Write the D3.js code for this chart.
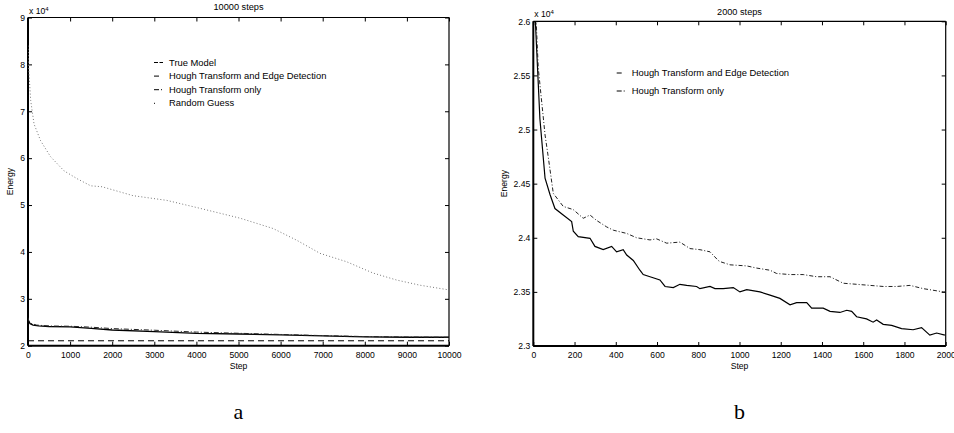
<!DOCTYPE html>
<html><head><meta charset="utf-8">
<script src="https://cdn.jsdelivr.net/npm/d3@7"></script>
<style>body{margin:0;background:#fff}svg{display:block}text{font-family:"Liberation Sans",Arial,sans-serif;fill:#000}</style>
</head><body>
<svg id="c" width="954" height="433"></svg>
<script>
// ---------- Panel a data (10000 steps) ----------
const aTitle = "10000 steps";
const aXTicks = [0,1000,2000,3000,4000,5000,6000,7000,8000,9000,10000];
const aYTicks = [2,3,4,5,6,7,8,9];
const aTrueModel = [[0,2.105],[10000,2.105]];
const aEdge = [[0,2.58],[15,2.52],[50,2.47],[120,2.44],[250,2.425],[500,2.41],[1000,2.40],[1500,2.37],[2000,2.335],[3000,2.30],[4000,2.265],[5000,2.25],[6000,2.23],[7000,2.21],[8000,2.19],[9000,2.18],[10000,2.18]];
const aHough = [[0,2.6],[20,2.53],[60,2.48],[200,2.44],[500,2.42],[1000,2.415],[1500,2.395],[2000,2.365],[3000,2.33],[4000,2.29],[5000,2.265],[6000,2.24],[7000,2.215],[8000,2.195],[9000,2.185],[10000,2.18]];
const aRandom = [[0,8.4],[20,7.85],[64,7.23],[143,6.73],[300,6.37],[537,6.03],[855,5.73],[1170,5.56],[1490,5.41],[1760,5.39],[2494,5.2],[3294,5.1],[4086,4.93],[5036,4.72],[5820,4.5],[6382,4.25],[6936,3.97],[7570,3.79],[8195,3.55],[8757,3.4],[9311,3.29],[10000,3.19]];
const aLegend = ["True Model","Hough Transform and Edge Detection","Hough Transform only","Random Guess"];

// ---------- Panel b data (2000 steps) ----------
const bTitle = "2000 steps";
const bXTicks = [0,200,400,600,800,1000,1200,1400,1600,1800,2000];
const bYTicks = [2.3,2.35,2.4,2.45,2.5,2.55,2.6];
const bEdge = [[0,2.70],[10,2.60],[32,2.51],[57,2.455],[81,2.44],[105,2.427],[145,2.421],[186,2.415],[194,2.406],[218,2.401],[275,2.3995],[299,2.392],[339,2.389],[380,2.392],[404,2.387],[436,2.389],[453,2.384],[485,2.379],[517,2.370],[533,2.366],[566,2.364],[614,2.361],[639,2.355],[679,2.354],[711,2.357],[744,2.356],[792,2.355],[808,2.353],[857,2.355],[881,2.353],[921,2.353],[970,2.354],[1002,2.350],[1035,2.352],[1099,2.350],[1148,2.347],[1196,2.344],[1245,2.338],[1277,2.340],[1326,2.340],[1350,2.335],[1406,2.335],[1439,2.332],[1487,2.331],[1520,2.333],[1544,2.332],[1568,2.327],[1616,2.325],[1648,2.322],[1665,2.324],[1697,2.320],[1738,2.319],[1786,2.316],[1842,2.315],[1883,2.317],[1923,2.310],[1956,2.312],[1996,2.310]];
const bHough = [[0,2.72],[14,2.60],[24,2.557],[57,2.495],[73,2.474],[97,2.441],[145,2.429],[194,2.426],[242,2.418],[275,2.421],[307,2.416],[356,2.410],[388,2.407],[453,2.404],[501,2.400],[566,2.398],[598,2.399],[647,2.395],[711,2.396],[760,2.390],[808,2.389],[857,2.387],[897,2.379],[905,2.378],[954,2.375],[1035,2.374],[1083,2.372],[1148,2.370],[1180,2.367],[1245,2.366],[1309,2.366],[1374,2.364],[1439,2.364],[1503,2.358],[1568,2.357],[1633,2.356],[1697,2.355],[1762,2.355],[1827,2.356],[1891,2.353],[1988,2.350],[2000,2.350]];
const bLegend = ["Hough Transform and Edge Detection","Hough Transform only"];

const svg = d3.select("#c");
const FS = 8.6, LFS = 9.4, TFS = 9.2;

function panel(o){
  const g = svg.append("g");
  const x = d3.scaleLinear().domain(o.xd).range([o.l,o.r]);
  const y = d3.scaleLinear().domain(o.yd).range([o.b,o.t]);
  const id = "clip"+o.key;
  svg.append("defs").append("clipPath").attr("id",id).append("rect")
    .attr("x",o.l).attr("y",o.t).attr("width",o.r-o.l).attr("height",o.b-o.t);
  const tl = 4;
  const xb = d3.axisBottom(x).tickValues(o.xt).tickSize(-tl).tickPadding(6).tickFormat(d3.format("d"));
  g.append("g").attr("transform",`translate(0,${o.b})`).call(xb);
  const xt = d3.axisTop(x).tickValues(o.xt).tickSize(-tl).tickFormat("");
  g.append("g").attr("transform",`translate(0,${o.t})`).call(xt);
  const yl = d3.axisLeft(y).tickValues(o.yt).tickSize(-tl).tickPadding(3).tickFormat(o.yf);
  g.append("g").attr("transform",`translate(${o.l},0)`).call(yl);
  const yr = d3.axisRight(y).tickValues(o.yt).tickSize(-tl).tickFormat("");
  g.append("g").attr("transform",`translate(${o.r},0)`).call(yr);
  g.selectAll(".domain").remove();
  g.selectAll(".tick line").attr("stroke","#000").attr("stroke-width",1);
  g.selectAll(".tick text").attr("font-size",FS).attr("font-family","Liberation Sans, Arial, sans-serif").attr("fill","#000");
  g.append("line").attr("x1",o.l).attr("x2",o.r).attr("y1",o.t).attr("y2",o.t).attr("stroke","#000").attr("stroke-width",1.2);
  g.append("line").attr("x1",o.r).attr("x2",o.r).attr("y1",o.t).attr("y2",o.b).attr("stroke","#000").attr("stroke-width",1.2);
  g.append("line").attr("x1",o.l).attr("x2",o.r).attr("y1",o.b).attr("y2",o.b).attr("stroke","#000").attr("stroke-width",2);
  g.append("line").attr("x1",o.l).attr("x2",o.l).attr("y1",o.t).attr("y2",o.b).attr("stroke","#000").attr("stroke-width",2);
  const line = d3.line().x(d=>x(d[0])).y(d=>y(d[1]));
  const lg = g.append("g").attr("clip-path",`url(#${id})`);
  o.series.forEach(s=>{
    lg.append("path").datum(s.data).attr("d",line).attr("fill","none")
      .attr("stroke",s.color).attr("stroke-width",s.w).attr("stroke-dasharray",s.dash||null);
  });
  g.append("text").attr("x",(o.l+o.r)/2).attr("y",o.titleY).attr("text-anchor","middle").attr("font-size",TFS).text(o.title);
  const m = g.append("text").attr("x",o.l+1).attr("y",o.t-4).attr("font-size",FS);
  m.append("tspan").text("x 10");
  m.append("tspan").attr("dy",-3).attr("font-size",6).text("4");
  g.append("text").attr("transform",`translate(${o.eX},${(o.t+o.b)/2}) rotate(-90)`).attr("text-anchor","middle").attr("font-size",FS).text("Energy");
  g.append("text").attr("x",(o.l+o.r)/2).attr("y",o.b+23).attr("text-anchor","middle").attr("font-size",FS).text("Step");
  g.append("text").attr("x",(o.l+o.r)/2).attr("y",419).attr("text-anchor","middle")
    .style("font-family","'Liberation Serif','DejaVu Serif',serif").attr("font-size",22).text(o.letter);
  o.series.forEach((s,i)=>{
    const yy = o.legY + i*o.legDy;
    g.append("line").attr("x1",o.legX).attr("x2",o.legX+s.lw).attr("y1",yy-3).attr("y2",yy-3)
      .attr("stroke","#000").attr("stroke-width",1).attr("stroke-dasharray",s.ldash||null);
    g.append("text").attr("x",o.legX+15).attr("y",yy).attr("font-size",LFS).text(s.name);
  });
}

panel({key:"a",xd:[0,10000],yd:[2,9],l:28,r:449,t:17.5,b:345.7,xt:aXTicks,yt:aYTicks,yf:d3.format("d"),
  title:aTitle,titleY:10,eX:13,letter:"a",legX:154,legY:65.5,legDy:13.6,
  series:[
    {name:aLegend[0],data:aTrueModel,color:"#000",w:1,dash:"6,4",lw:9,ldash:"4,1.5"},
    {name:aLegend[1],data:aEdge,color:"#000",w:1.3,lw:5},
    {name:aLegend[2],data:aHough,color:"#222",w:1,dash:"5,2,1,2",lw:8,ldash:"5,2,1,0"},
    {name:aLegend[3],data:aRandom,color:"#777",w:1,dash:"1,2.2",lw:1},
  ]});

panel({key:"b",xd:[0,2000],yd:[2.3,2.6],l:533.3,r:945.7,t:21.3,b:346,xt:bXTicks,yt:bYTicks,yf:d=>d3.format("")(+d.toFixed(2)),
  title:bTitle,titleY:15,eX:507,letter:"b",legX:616.7,legY:76,legDy:18,
  series:[
    {name:bLegend[0],data:bEdge,color:"#000",w:1.2,lw:5},
    {name:bLegend[1],data:bHough,color:"#222",w:1,dash:"4,2,1,2",lw:8,ldash:"5,2,1,0"},
  ]});
</script>
</body></html>
